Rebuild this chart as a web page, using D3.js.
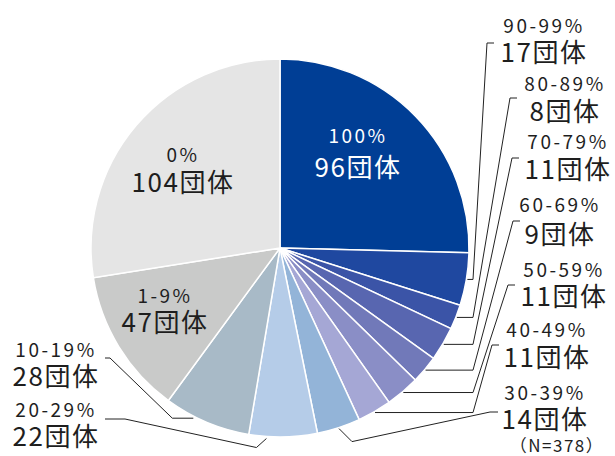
<!DOCTYPE html>
<html>
<head>
<meta charset="utf-8">
<script src="https://cdn.jsdelivr.net/npm/d3@7"></script>
<style>
  body { margin: 0; background: #fff; }
  text { font-family: "Noto Sans CJK JP", "Noto Sans", sans-serif; }
</style>
</head>
<body>
<div id="chart"></div>
<script>
// values, clockwise from 12 o'clock
const categories = ["100%", "90-99%", "80-89%", "70-79%", "60-69%", "50-59%", "40-49%", "30-39%", "20-29%", "10-19%", "1-9%", "0%"];
const counts = [96, 17, 8, 11, 9, 11, 11, 14, 22, 28, 47, 104];
const unit = "団体";
const note = "（N=378）";

const colors = ["#003e95", "#1f48a0", "#3b54a7", "#5866b0", "#7179b9", "#8a8ec6", "#a5a7d5",
                "#93b4d8", "#b5cce8", "#a8bac7", "#c9cac9", "#e5e5e5"];

const width = 615, height = 456;
const cx = 280, cy = 248, R = 189;

// label layout (centre x, baselines, where the leader line meets the label)
const labelLayout = [
    { x: 358, pctY: 143, cntY: 177, fill: "#fff" },
    { x: 544, pctY: 33, cntY: 62, kind: "col", tick: [487, 43] },
    { x: 565, pctY: 91, cntY: 121, kind: "col", tick: [510, 98] },
    { x: 568, pctY: 149, cntY: 179, kind: "col", tick: [512, 158] },
    { x: 560, pctY: 212, cntY: 244, kind: "col", tick: [513, 221] },
    { x: 564, pctY: 277, cntY: 306, kind: "col", tick: [508, 285] },
    { x: 547, pctY: 337, cntY: 367, kind: "col", tick: [492, 345] },
    { x: 545, pctY: 400, cntY: 429, kind: "diag", tick: [490, 412] },
    { x: 56, pctY: 417, cntY: 446, kind: "left", at: 0.74, bend: [-10, 9], tick: [105, 419], tickLen: 20 },
    { x: 56, pctY: 357, cntY: 386, kind: "left", at: 0.655, bend: [-21, 0], tick: [105, 358], tickLen: 5 },
    { x: 165, pctY: 303, cntY: 332 },
    { x: 183, pctY: 162, cntY: 192 }
];

const svg = d3.select("#chart").append("svg")
    .attr("width", width)
    .attr("height", height);

const pie = d3.pie().sort(null).value(d => d);
const arcs = pie(counts);
const arc = d3.arc().innerRadius(0).outerRadius(R);

const g = svg.append("g").attr("transform", `translate(${cx},${cy})`);

g.selectAll("path.slice")
    .data(arcs)
    .enter().append("path")
    .attr("class", "slice")
    .attr("d", arc)
    .attr("fill", (d, i) => colors[i])
    .attr("stroke", "#fff")
    .attr("stroke-width", 1.5);

// point on the rim at a given angle
function rim(a, r) {
    return [cx + r * Math.sin(a), cy - r * Math.cos(a)];
}

// leader lines
const line = d3.line();
arcs.forEach((d, i) => {
    const L = labelLayout[i];
    if (!L.kind) return;
    let pts;
    if (L.kind === "col") {
        const s = rim((d.startAngle + d.endAngle) / 2, R + 1);
        pts = [s, [cx + R + 4, s[1]], L.tick, [L.tick[0] + 7, L.tick[1]]];
    } else if (L.kind === "diag") {
        const s = rim((d.startAngle + d.endAngle) / 2, R + 1);
        pts = [s, [s[0] + 13, s[1] + 13], L.tick, [L.tick[0] + 8, L.tick[1]]];
    } else {
        const s = rim(d.startAngle + (d.endAngle - d.startAngle) * L.at, R + 2);
        pts = [s, [s[0] + L.bend[0], s[1] + L.bend[1]], [L.tick[0] + L.tickLen, L.tick[1]], L.tick];
    }
    svg.append("path")
        .attr("d", line(pts))
        .attr("fill", "none")
        .attr("stroke", "#222")
        .attr("stroke-width", 1);
});

// labels
const labels = svg.selectAll("g.label")
    .data(arcs)
    .enter().append("g")
    .attr("class", "label");

labels.append("text")
    .attr("x", (d, i) => labelLayout[i].x)
    .attr("y", (d, i) => labelLayout[i].pctY)
    .attr("text-anchor", "middle")
    .attr("fill", (d, i) => labelLayout[i].fill || "#1e1e1e")
    .style("font-size", "19px")
    .style("letter-spacing", "2.5px")
    .text((d, i) => categories[i]);

labels.append("text")
    .attr("x", (d, i) => labelLayout[i].x)
    .attr("y", (d, i) => labelLayout[i].cntY)
    .attr("text-anchor", "middle")
    .attr("fill", (d, i) => labelLayout[i].fill || "#1e1e1e")
    .style("font-size", "26px")
    .style("letter-spacing", "1.5px")
    .text(d => d.data + unit);

svg.append("text")
    .attr("x", 557)
    .attr("y", 452)
    .attr("text-anchor", "middle")
    .attr("fill", "#1e1e1e")
    .style("font-size", "17px")
    .style("letter-spacing", "1.5px")
    .text(note);
</script>
</body>
</html>
